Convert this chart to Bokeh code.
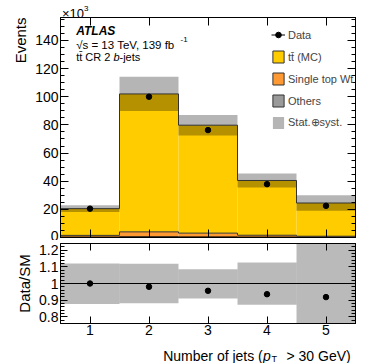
import numpy as np
from bokeh.plotting import figure
from bokeh.layouts import column
from bokeh.models import (Range1d, SingleIntervalTicker, FixedTicker, LinearAxis, Label, Title,
                          Legend, LegendItem, Span, CustomJSTickFormatter)
from bokeh.embed import file_html
from bokeh.resources import INLINE

# ---------------- data (in units of 10^3 events) ----------------
n_jets = [1, 2, 3, 4, 5]
ttbar = [19.0, 98.0, 76.7, 38.9, 23.6]
single_top = [1.2, 3.5, 2.7, 1.3, 0.6]
others = [0.3, 0.5, 0.4, 0.3, 0.3]
data = [20.5, 100.0, 76.3, 37.9, 22.5]
band_err = [2.4, 12.2, 7.3, 5.0, 5.5]
ratio_band_lo = [0.877, 0.882, 0.910, 0.873, 0.700]
ratio_band_hi = [1.120, 1.118, 1.086, 1.126, 1.300]
main_y_ticks = [0, 20, 40, 60, 80, 100, 120, 140]
ratio_y_ticks = [0.8, 0.9, 1.0, 1.1, 1.2]
legend_labels = ["Data", "t\u0074\u0304 (MC)", "Single top Wt", "Others", "Stat.\u2295syst."]

FONT = "Liberation Sans"
C_TT = "#ffcc00"
C_ST = "#ff9933"
C_OTH = "#9a9a9a"
EDGE = "#333333"
BL, FW, BR = 60, 295, 19   # left border, frame width, right border

x = np.array(n_jets, dtype=float)
left = x - 0.5
right = x + 0.5
oth = np.array(others)
st_top = oth + np.array(single_top)
total = st_top + np.array(ttbar)
dat = np.array(data)
dat_err = np.sqrt(dat * 1000.0) / 1000.0
ratio = dat / total
edges = np.append(left, right[-1])
main_minor = list(np.arange(0, 160, 5.0))
ratio_minor = [round(v, 2) for v in np.arange(0.76, 1.2401, 0.02)]


def step_y(v):
    return np.append(v, v[-1])


def base_axis(ax, tick_in=8, minor_in=4, standoff=2):
    ax.major_tick_in = tick_in
    ax.major_tick_out = 0
    ax.minor_tick_in = minor_in
    ax.minor_tick_out = 0
    ax.axis_line_color = "black"
    ax.major_tick_line_color = "black"
    ax.minor_tick_line_color = "black"
    ax.major_label_text_font = FONT
    ax.major_label_text_color = "black"
    ax.major_label_text_font_size = "14px"
    ax.major_label_standoff = standoff


def tick_only(p, side, majors, minors, major_len=8, minor_len=4):
    for pos, ln in ((majors, major_len), (minors, minor_len)):
        if not pos:
            continue
        ax = LinearAxis(ticker=FixedTicker(ticks=[], minor_ticks=list(pos)))
        ax.major_tick_in = 0
        ax.major_tick_out = 0
        ax.minor_tick_in = ln
        ax.minor_tick_out = 0
        ax.minor_tick_line_color = "black"
        ax.axis_line_color = "black"
        ax.major_label_standoff = 0
        ax.axis_label_standoff = 0
        p.add_layout(ax, side)


def lbl(p, x, y, text, size="11px", style="normal", align="left", baseline="alphabetic", angle=0.0):
    p.add_layout(Label(x=x, y=y, x_units="screen", y_units="screen", text=text,
                       text_font=FONT, text_font_size=size, text_font_style=style,
                       text_align=align, text_baseline=baseline, angle=angle,
                       text_color="black"))


def side_title(p, text, align):
    p.add_layout(Title(text=text, align=align, text_font=FONT, text_font_size="15px",
                       text_font_style="normal", text_color="black", standoff=8), "left")


def strip(h):
    s = figure(frame_width=FW, frame_height=h, x_range=Range1d(0, 1), y_range=Range1d(0, 1),
               output_backend="svg", toolbar_location=None,
               x_axis_location=None, y_axis_location=None,
               min_border_left=BL, min_border_right=BR, min_border_top=0, min_border_bottom=0)
    s.xgrid.visible = False
    s.ygrid.visible = False
    s.outline_line_color = None
    return s


# ---------------- main panel ----------------
p1 = figure(frame_width=FW, frame_height=220, x_range=Range1d(0.5, 5.5), y_range=Range1d(0, 156.3),
            output_backend="svg", toolbar_location=None,
            x_axis_location=None, y_axis_location=None,
            min_border_left=BL, min_border_right=BR, min_border_top=0, min_border_bottom=3)
p1.xgrid.visible = False
p1.ygrid.visible = False
p1.outline_line_color = "black"

ax_l = LinearAxis(ticker=SingleIntervalTicker(interval=20, num_minor_ticks=4))
base_axis(ax_l)
p1.add_layout(ax_l, "left")
side_title(p1, "Events", "right")
tick_only(p1, "right", main_y_ticks, main_minor)
tick_only(p1, "above", n_jets, [])
tick_only(p1, "below", n_jets, [])

r_oth = p1.quad(left=left, right=right, bottom=0, top=oth, fill_color=C_OTH, line_color=None)
r_st = p1.quad(left=left, right=right, bottom=oth, top=st_top, fill_color=C_ST, line_color=None)
r_tt = p1.quad(left=left, right=right, bottom=st_top, top=total, fill_color=C_TT, line_color=None)
r_band = p1.quad(left=left, right=right, bottom=total - np.array(band_err), top=total + np.array(band_err),
                 fill_color="black", fill_alpha=0.29, line_color=None)
p1.step(edges, step_y(oth), mode="after", line_color="black", line_width=1)
p1.step(edges, step_y(st_top), mode="after", line_color=EDGE, line_width=1)
p1.step(edges, step_y(total), mode="after", line_color=EDGE, line_width=1)
r_err = p1.segment(x0=x, x1=x, y0=dat - dat_err, y1=dat + dat_err, line_color="black", line_width=1)
r_dat = p1.scatter(x, dat, size=5.5, color="black")

# hidden proxies so the legend boxes carry an outline like the reference
lg_tt = p1.quad(left=[0], right=[0], bottom=[0], top=[0], fill_color=C_TT, line_color=EDGE, visible=False)
lg_st = p1.quad(left=[0], right=[0], bottom=[0], top=[0], fill_color=C_ST, line_color=EDGE, visible=False)
lg_oth = p1.quad(left=[0], right=[0], bottom=[0], top=[0], fill_color=C_OTH, line_color=EDGE, visible=False)

legend = Legend(items=[LegendItem(label=legend_labels[0], renderers=[r_err, r_dat]),
                       LegendItem(label=legend_labels[1], renderers=[lg_tt]),
                       LegendItem(label=legend_labels[2], renderers=[lg_st]),
                       LegendItem(label=legend_labels[3], renderers=[lg_oth]),
                       LegendItem(label=legend_labels[4], renderers=[r_band])],
                location=(211, 107), glyph_width=14, glyph_height=15, label_height=15,
                spacing=7, padding=0, margin=0, label_standoff=3,
                background_fill_alpha=0, border_line_alpha=0,
                label_text_font=FONT, label_text_font_size="11px")
p1.add_layout(legend)

lbl(p1, 15.7, 207, "ATLAS", size="12px", style="bold italic")
lbl(p1, 15.7, 193, "\u221as = 13 TeV, 139 fb", size="11.5px")
lbl(p1, 120, 198, "-1", size="8px")
lbl(p1, 15.7, 181, "t\u0074\u0304 CR 2", size="11px")
lbl(p1, 53, 181, "b", size="11px", style="italic")
lbl(p1, 59, 181, "-jets", size="11px")

# ---------------- ratio panel ----------------
p2 = figure(frame_width=FW, frame_height=80, x_range=p1.x_range, y_range=Range1d(0.76, 1.24),
            output_backend="svg", toolbar_location=None,
            x_axis_location=None, y_axis_location=None,
            min_border_left=BL, min_border_right=BR, min_border_top=3, min_border_bottom=18)
p2.xgrid.visible = False
p2.ygrid.visible = False
p2.outline_line_color = "black"

ax_b2 = LinearAxis(ticker=FixedTicker(ticks=n_jets, minor_ticks=[]))
base_axis(ax_b2, tick_in=7, standoff=1)
p2.add_layout(ax_b2, "below")
ax_l2 = LinearAxis(ticker=SingleIntervalTicker(interval=0.1, num_minor_ticks=5),
                   formatter=CustomJSTickFormatter(code="return String(Number(tick.toFixed(2)));"))
base_axis(ax_l2, tick_in=7, minor_in=4)
p2.add_layout(ax_l2, "left")
side_title(p2, "Data/SM", "center")
tick_only(p2, "right", ratio_y_ticks, ratio_minor, 7, 4)
tick_only(p2, "above", n_jets, [], 7, 4)

p2.quad(left=left, right=right, bottom=ratio_band_lo, top=ratio_band_hi,
        fill_color="black", fill_alpha=0.27, line_color=None)
p2.add_layout(Span(location=1.0, dimension="width", line_color="black", line_width=1))
p2.scatter(x, ratio, size=5.5, color="black")

# ---------------- text strips above and below the panels ----------------
top_strip = strip(17)
lbl(top_strip, 1.5, 4, "\u00d710", size="13px")
lbl(top_strip, 23.5, 9, "3", size="8px")

bottom_strip = strip(22)
lbl(bottom_strip, 102.7, 8, "Number of jets (", size="14px")
lbl(bottom_strip, 202.5, 8, "p", size="14px", style="italic")
lbl(bottom_strip, 211, 4.5, "T", size="9px")
lbl(bottom_strip, 226, 8, "> 30 GeV)", size="14px")

layout = column(top_strip, p1, p2, bottom_strip, spacing=0)
open("out.html", "w").write(file_html(layout, INLINE))
